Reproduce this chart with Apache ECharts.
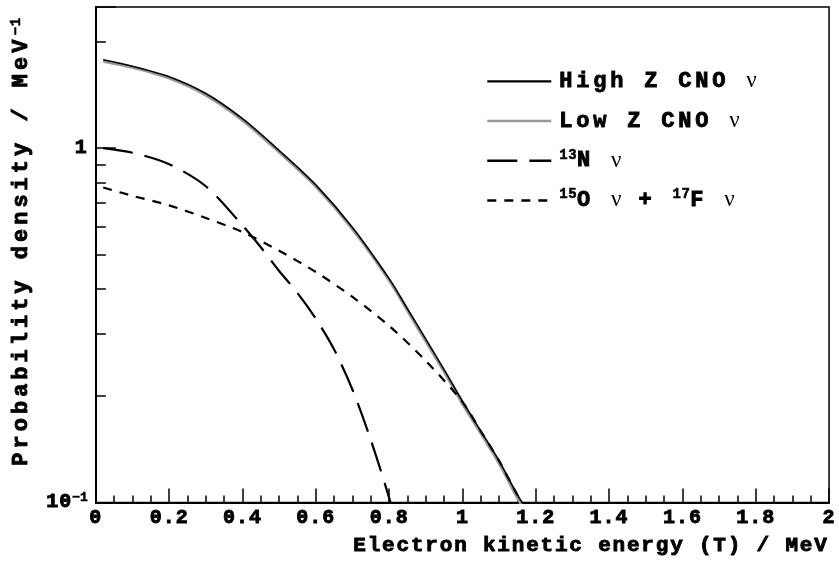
<!DOCTYPE html>
<html><head><meta charset="utf-8">
<script src="https://cdn.jsdelivr.net/npm/echarts@6/dist/echarts.min.js"></script>
<style>html,body{margin:0;padding:0;background:#fff}#c{width:839px;height:563px}</style>
</head><body><div id="c"></div>
<script>
// letter-spacing helper: a fallback family tag "lsN" (N in px, 'p' = decimal point) sets canvas letterSpacing
(function(){
  const P = CanvasRenderingContext2D.prototype;
  const d = Object.getOwnPropertyDescriptor(P,'font');
  if (!d || !('letterSpacing' in P)) return;
  Object.defineProperty(P,'font',{configurable:true,enumerable:d.enumerable,
    get(){return d.get.call(this);},
    set(v){ d.set.call(this,v); const m=/ls(\d+(?:p\d+)?)/.exec(v); this.letterSpacing = m ? m[1].replace('p','.')+'px' : '0px'; }});
})();

// ---- data ----
const xHigh   = [0.02,0.1,0.2,0.3,0.4,0.5,0.6,0.7,0.8,0.85,0.9,0.95,1.0,1.05,1.1,1.15,1.18];
const yHigh   = [1.774,1.702,1.589,1.425,1.21,0.984,0.787,0.597,0.428,0.352,0.289,0.237,0.193,0.159,0.131,0.105,0.094];
const xLow    = [0.02,0.1,0.2,0.3,0.4,0.5,0.6,0.7,0.8,0.85,0.9,0.95,1.0,1.05,1.1,1.15,1.175];
const yLow    = [1.757,1.687,1.574,1.41,1.198,0.974,0.779,0.591,0.424,0.348,0.285,0.234,0.19,0.157,0.129,0.103,0.093];
const xN13    = [0.02,0.1,0.2,0.3,0.4,0.45,0.5,0.55,0.6,0.65,0.7,0.75,0.8,0.82];
const yN13    = [1.0,0.97,0.9,0.78,0.605,0.525,0.45,0.39,0.33,0.27,0.208,0.15,0.103,0.085];
const xO15    = [0.02,0.1,0.2,0.3,0.4,0.5,0.6,0.7,0.8,0.9,1.0,1.05,1.1,1.15,1.18];
const yO15    = [0.774,0.733,0.689,0.635,0.579,0.513,0.447,0.38,0.315,0.251,0.192,0.159,0.131,0.105,0.094];
const seriesNames = ['High Z CNO ν','Low Z CNO ν','¹³N ν','¹⁵O ν + ¹⁷F ν'];
const legendRich = {
  'High Z CNO ν': '{b|High Z CNO }{n|ν}',
  'Low Z CNO ν': '{b|Low Z CNO }{n|ν}',
  '¹³N ν': '{s|13}{b|N }{n|ν}',
  '¹⁵O ν + ¹⁷F ν': '{s|15}{b|O }{n|ν}{b| + }{s|17}{b|F }{n|ν}'
};
const yMinorTicks = [0.2,0.3,0.4,0.5,0.6,0.7,0.8,0.9,2];
const xTitle = 'Electron kinetic energy (T) / MeV';
const yTitle = 'Probability density / MeV';

const pair = (xs, ys) => xs.map((x,i)=>[x, ys[i]]);
const YMAX = 2.5;
const HEAVY = {color:'#000', textBorderColor:'#000', textBorderWidth:0.9};

const chart = echarts.init(document.getElementById('c'), null, {renderer:'canvas'});
chart.setOption({
  backgroundColor:'#fff',
  animation:false,
  grid:{left:93,right:9,top:7,bottom:55,show:true,borderColor:'#000',borderWidth:1.5,containLabel:false},
  legend:{
    orient:'vertical', left:481, top:63, itemWidth:64, itemHeight:14, itemGap:13,
    selectedMode:false,
    data:[
      {name:seriesNames[0], lineStyle:{width:2.2}},
      {name:seriesNames[1], lineStyle:{width:2.6}},
      {name:seriesNames[2], lineStyle:{width:2.4}},
      {name:seriesNames[3], lineStyle:{width:2.4}}
    ],
    itemStyle:{opacity:0},
    lineStyle:{width:'inherit'},
    formatter: n => legendRich[n],
    textStyle:{padding:[0,0,0,3], rich:{
      b:Object.assign({fontFamily:"'Liberation Mono', ls3p8", fontWeight:'bold', fontSize:22, lineHeight:26}, HEAVY),
      s:Object.assign({fontFamily:"'Liberation Mono', ls0p5", fontWeight:'bold', fontSize:14, lineHeight:14, verticalAlign:'top'}, HEAVY, {textBorderWidth:0.5}),
      n:{fontFamily:"'Liberation Serif', 'DejaVu Serif', serif", fontSize:23, lineHeight:26, color:'#000'}
    }}
  },
  xAxis:{
    type:'value', min:0, max:2, interval:0.2,
    axisLine:{onZero:false, lineStyle:{color:'#000',width:2}},
    axisTick:{inside:true,length:14,lineStyle:{color:'#000',width:1.5}},
    minorTick:{show:true,splitNumber:4,length:7,lineStyle:{color:'#000',width:1.5}},
    splitLine:{show:false},
    axisLabel:Object.assign({fontFamily:"'Liberation Mono', ls1",fontWeight:'bold',fontSize:20,margin:6,lineHeight:20}, HEAVY),
    name:xTitle, nameLocation:'middle', nameGap:32,
    nameTextStyle:Object.assign({fontFamily:"'Liberation Mono', ls1p8",fontWeight:'bold',fontSize:21,lineHeight:21,padding:[0,0,0,257]}, HEAVY)
  },
  yAxis:[{
    type:'log', min:0.1, max:YMAX, logBase:10,
    axisLine:{lineStyle:{color:'#000',width:2}},
    axisTick:{inside:true,length:20,lineStyle:{color:'#000',width:1.5}},
    splitLine:{show:false},
    axisLabel:{margin:8,formatter:v=>{
        if (Math.abs(v-0.1)<1e-9) return '{b|10}{s|−1}';
        if (Math.abs(v-1)<1e-9) return '{b|1}';
        return '';
      },
      rich:{
        b:Object.assign({fontFamily:"'Liberation Mono', ls1",fontWeight:'bold',fontSize:20,lineHeight:22}, HEAVY),
        s:Object.assign({fontFamily:"'Liberation Mono'",fontWeight:'bold',fontSize:13,lineHeight:13,verticalAlign:'top'}, HEAVY, {textBorderWidth:0.5})
      }},
    name:'{b|'+yTitle+'}{s|−1}', nameLocation:'middle', nameRotate:90, nameGap:60,
    nameTextStyle:{padding:[0,0,0,27], rich:{
      b:Object.assign({fontFamily:"'Liberation Mono', ls4",fontWeight:'bold',fontSize:22,lineHeight:24}, HEAVY),
      s:Object.assign({fontFamily:"'Liberation Mono', ls1",fontWeight:'bold',fontSize:14,lineHeight:14,verticalAlign:'top'}, HEAVY, {textBorderWidth:0.5})
    }}
  },{
    type:'value', min:-1, max:Math.log10(YMAX), position:'left',
    axisLine:{show:false}, axisLabel:{show:false}, splitLine:{show:false},
    axisTick:{show:true,inside:true,length:10,customValues:yMinorTicks.map(v=>Math.log10(v)),lineStyle:{color:'#000',width:1.5}}
  }],
  series:[
    {name:seriesNames[1],type:'line',data:pair(xLow,yLow),symbol:'none',smooth:0.3,z:2,
     lineStyle:{color:'#999',width:3}},
    {name:seriesNames[0],type:'line',data:pair(xHigh,yHigh),symbol:'none',smooth:0.3,z:3,
     lineStyle:{color:'#000',width:1.6}},
    {name:seriesNames[2],type:'line',data:pair(xN13,yN13),symbol:'none',smooth:0.3,z:4,
     lineStyle:{color:'#000',width:2.2,type:[30,12]}},
    {name:seriesNames[3],type:'line',data:pair(xO15,yO15),symbol:'none',smooth:0.3,z:4,
     lineStyle:{color:'#000',width:2.2,type:[9,8]}}
  ]
});
</script></body></html>
